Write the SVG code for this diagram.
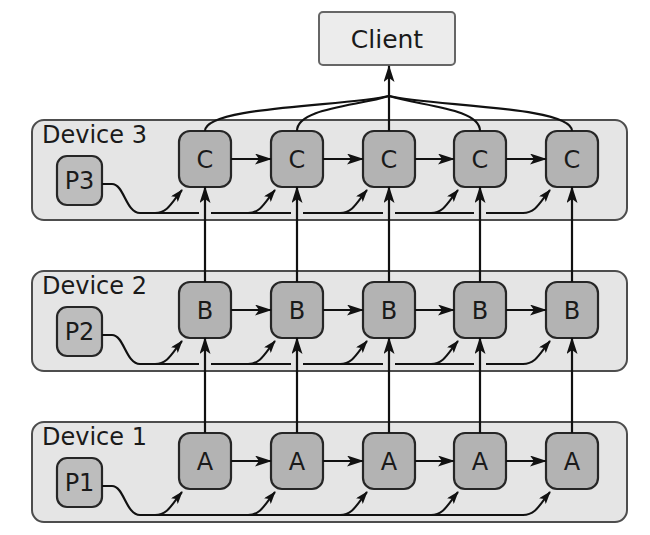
<svg xmlns="http://www.w3.org/2000/svg" width="650" height="535" viewBox="0 0 650 535">
<defs>
<style>
.dev{fill:#e5e5e5;stroke:#4d4d4d;stroke-width:2}
.node{fill:#b3b3b3;stroke:#262626;stroke-width:2.2}
.pnode{fill:#bdbdbd;stroke:#262626;stroke-width:2.2}
.client{fill:#ececec;stroke:#666;stroke-width:2}
.lbl{font-family:"DejaVu Sans",Verdana,sans-serif;fill:#1a1a1a}
.dl{font-size:24px}
.nl{font-size:24px;text-anchor:middle}
.ln{fill:none;stroke:#111;stroke-width:2.2}
.ar{fill:none;stroke:#111;stroke-width:2.2;marker-end:url(#ah)}
.br{fill:none;stroke:#111;stroke-width:2;marker-end:url(#ahs)}
</style>
<marker id="ah" viewBox="0 0 17 11" refX="16" refY="5.5" markerWidth="17" markerHeight="11" markerUnits="userSpaceOnUse" orient="auto">
<path d="M0,0 L17,5.5 L0,11 L4,5.5 z" fill="#111"/>
</marker>
<marker id="ahs" viewBox="0 0 13 9" refX="12" refY="4.5" markerWidth="13" markerHeight="9" markerUnits="userSpaceOnUse" orient="auto">
<path d="M0,0 L13,4.5 L0,9 L3,4.5 z" fill="#111"/>
</marker>
</defs>

<g id="device3"><rect class="dev" x="32" y="120" width="595" height="100" rx="12"/><text class="lbl dl" x="42" y="143">Device 3</text></g>
<g id="device2"><rect class="dev" x="32" y="271" width="595" height="100" rx="12"/><text class="lbl dl" x="42" y="294">Device 2</text></g>
<g id="device1"><rect class="dev" x="32" y="422" width="595" height="100" rx="12"/><text class="lbl dl" x="42" y="445">Device 1</text></g>

<g id="client"><rect class="client" x="319" y="12" width="136" height="53" rx="4"/><text class="lbl nl" x="387" y="48" style="font-size:25px">Client</text></g>

<g id="p3"><rect class="pnode" x="57" y="156" width="45" height="49" rx="10"/><text class="lbl nl" x="79.5" y="189">P3</text></g>
<g id="p2"><rect class="pnode" x="57" y="307" width="45" height="49" rx="10"/><text class="lbl nl" x="79.5" y="340">P2</text></g>
<g id="p1"><rect class="pnode" x="57" y="458" width="45" height="49" rx="10"/><text class="lbl nl" x="79.5" y="491">P1</text></g>

<g id="c1"><rect class="node" x="179" y="131" width="52" height="56" rx="11"/><text class="lbl nl" x="205" y="168">C</text></g>
<g id="c2"><rect class="node" x="271" y="131" width="52" height="56" rx="11"/><text class="lbl nl" x="297" y="168">C</text></g>
<g id="c3"><rect class="node" x="363" y="131" width="52" height="56" rx="11"/><text class="lbl nl" x="389" y="168">C</text></g>
<g id="c4"><rect class="node" x="454" y="131" width="52" height="56" rx="11"/><text class="lbl nl" x="480" y="168">C</text></g>
<g id="c5"><rect class="node" x="546" y="131" width="52" height="56" rx="11"/><text class="lbl nl" x="572" y="168">C</text></g>

<g id="b1"><rect class="node" x="179" y="282" width="52" height="56" rx="11"/><text class="lbl nl" x="205" y="319">B</text></g>
<g id="b2"><rect class="node" x="271" y="282" width="52" height="56" rx="11"/><text class="lbl nl" x="297" y="319">B</text></g>
<g id="b3"><rect class="node" x="363" y="282" width="52" height="56" rx="11"/><text class="lbl nl" x="389" y="319">B</text></g>
<g id="b4"><rect class="node" x="454" y="282" width="52" height="56" rx="11"/><text class="lbl nl" x="480" y="319">B</text></g>
<g id="b5"><rect class="node" x="546" y="282" width="52" height="56" rx="11"/><text class="lbl nl" x="572" y="319">B</text></g>

<g id="a1"><rect class="node" x="179" y="433" width="52" height="56" rx="11"/><text class="lbl nl" x="205" y="470">A</text></g>
<g id="a2"><rect class="node" x="271" y="433" width="52" height="56" rx="11"/><text class="lbl nl" x="297" y="470">A</text></g>
<g id="a3"><rect class="node" x="363" y="433" width="52" height="56" rx="11"/><text class="lbl nl" x="389" y="470">A</text></g>
<g id="a4"><rect class="node" x="454" y="433" width="52" height="56" rx="11"/><text class="lbl nl" x="480" y="470">A</text></g>
<g id="a5"><rect class="node" x="546" y="433" width="52" height="56" rx="11"/><text class="lbl nl" x="572" y="470">A</text></g>

<g id="connectors">
<path class="ln" d="M205,131 C205,106 350,106 389,96"/>
<path class="ln" d="M297,131 C297,108 358,106 389,96"/>
<path class="ln" d="M480,131 C480,108 420,106 389,96"/>
<path class="ln" d="M572,131 C572,106 428,106 389,96"/>
<path class="ar" d="M389,131 L389,66"/>

<path class="ar" d="M231,159 L271,159"/><path class="ar" d="M323,159 L363,159"/><path class="ar" d="M415,159 L454,159"/><path class="ar" d="M506,159 L546,159"/>
<path class="ar" d="M231,310 L271,310"/><path class="ar" d="M323,310 L363,310"/><path class="ar" d="M415,310 L454,310"/><path class="ar" d="M506,310 L546,310"/>
<path class="ar" d="M231,461 L271,461"/><path class="ar" d="M323,461 L363,461"/><path class="ar" d="M415,461 L454,461"/><path class="ar" d="M506,461 L546,461"/>

<path class="ar" d="M205,433 L205,338"/><path class="ar" d="M297,433 L297,338"/><path class="ar" d="M389,433 L389,338"/><path class="ar" d="M480,433 L480,338"/><path class="ar" d="M572,433 L572,338"/>
<path class="ar" d="M205,282 L205,187"/><path class="ar" d="M297,282 L297,187"/><path class="ar" d="M389,282 L389,187"/><path class="ar" d="M480,282 L480,187"/><path class="ar" d="M572,282 L572,187"/>

<path class="ln" d="M102,184 L112,184 C124,184 126,213 140,213 L199,213 M211,213 L291,213 M303,213 L383,213 M395,213 L474,213 M486,213 L524,213"/>
<path class="br" d="M155,213 C168,213 172,202 182,190"/>
<path class="br" d="M248,213 C261,213 265,202 275,190"/>
<path class="br" d="M340,213 C353,213 357,202 367,190"/>
<path class="br" d="M431,213 C444,213 448,202 458,190"/>
<path class="br" d="M523,213 C536,213 540,202 550,190"/>

<path class="ln" d="M102,335 L112,335 C124,335 126,364 140,364 L199,364 M211,364 L291,364 M303,364 L383,364 M395,364 L474,364 M486,364 L524,364"/>
<path class="br" d="M155,364 C168,364 172,353 182,341"/>
<path class="br" d="M248,364 C261,364 265,353 275,341"/>
<path class="br" d="M340,364 C353,364 357,353 367,341"/>
<path class="br" d="M431,364 C444,364 448,353 458,341"/>
<path class="br" d="M523,364 C536,364 540,353 550,341"/>

<path class="ln" d="M102,486 L112,486 C124,486 126,515 140,515 L524,515"/>
<path class="br" d="M155,515 C168,515 172,504 182,492"/>
<path class="br" d="M248,515 C261,515 265,504 275,492"/>
<path class="br" d="M340,515 C353,515 357,504 367,492"/>
<path class="br" d="M431,515 C444,515 448,504 458,492"/>
<path class="br" d="M523,515 C536,515 540,504 550,492"/>
</g>
</svg>
